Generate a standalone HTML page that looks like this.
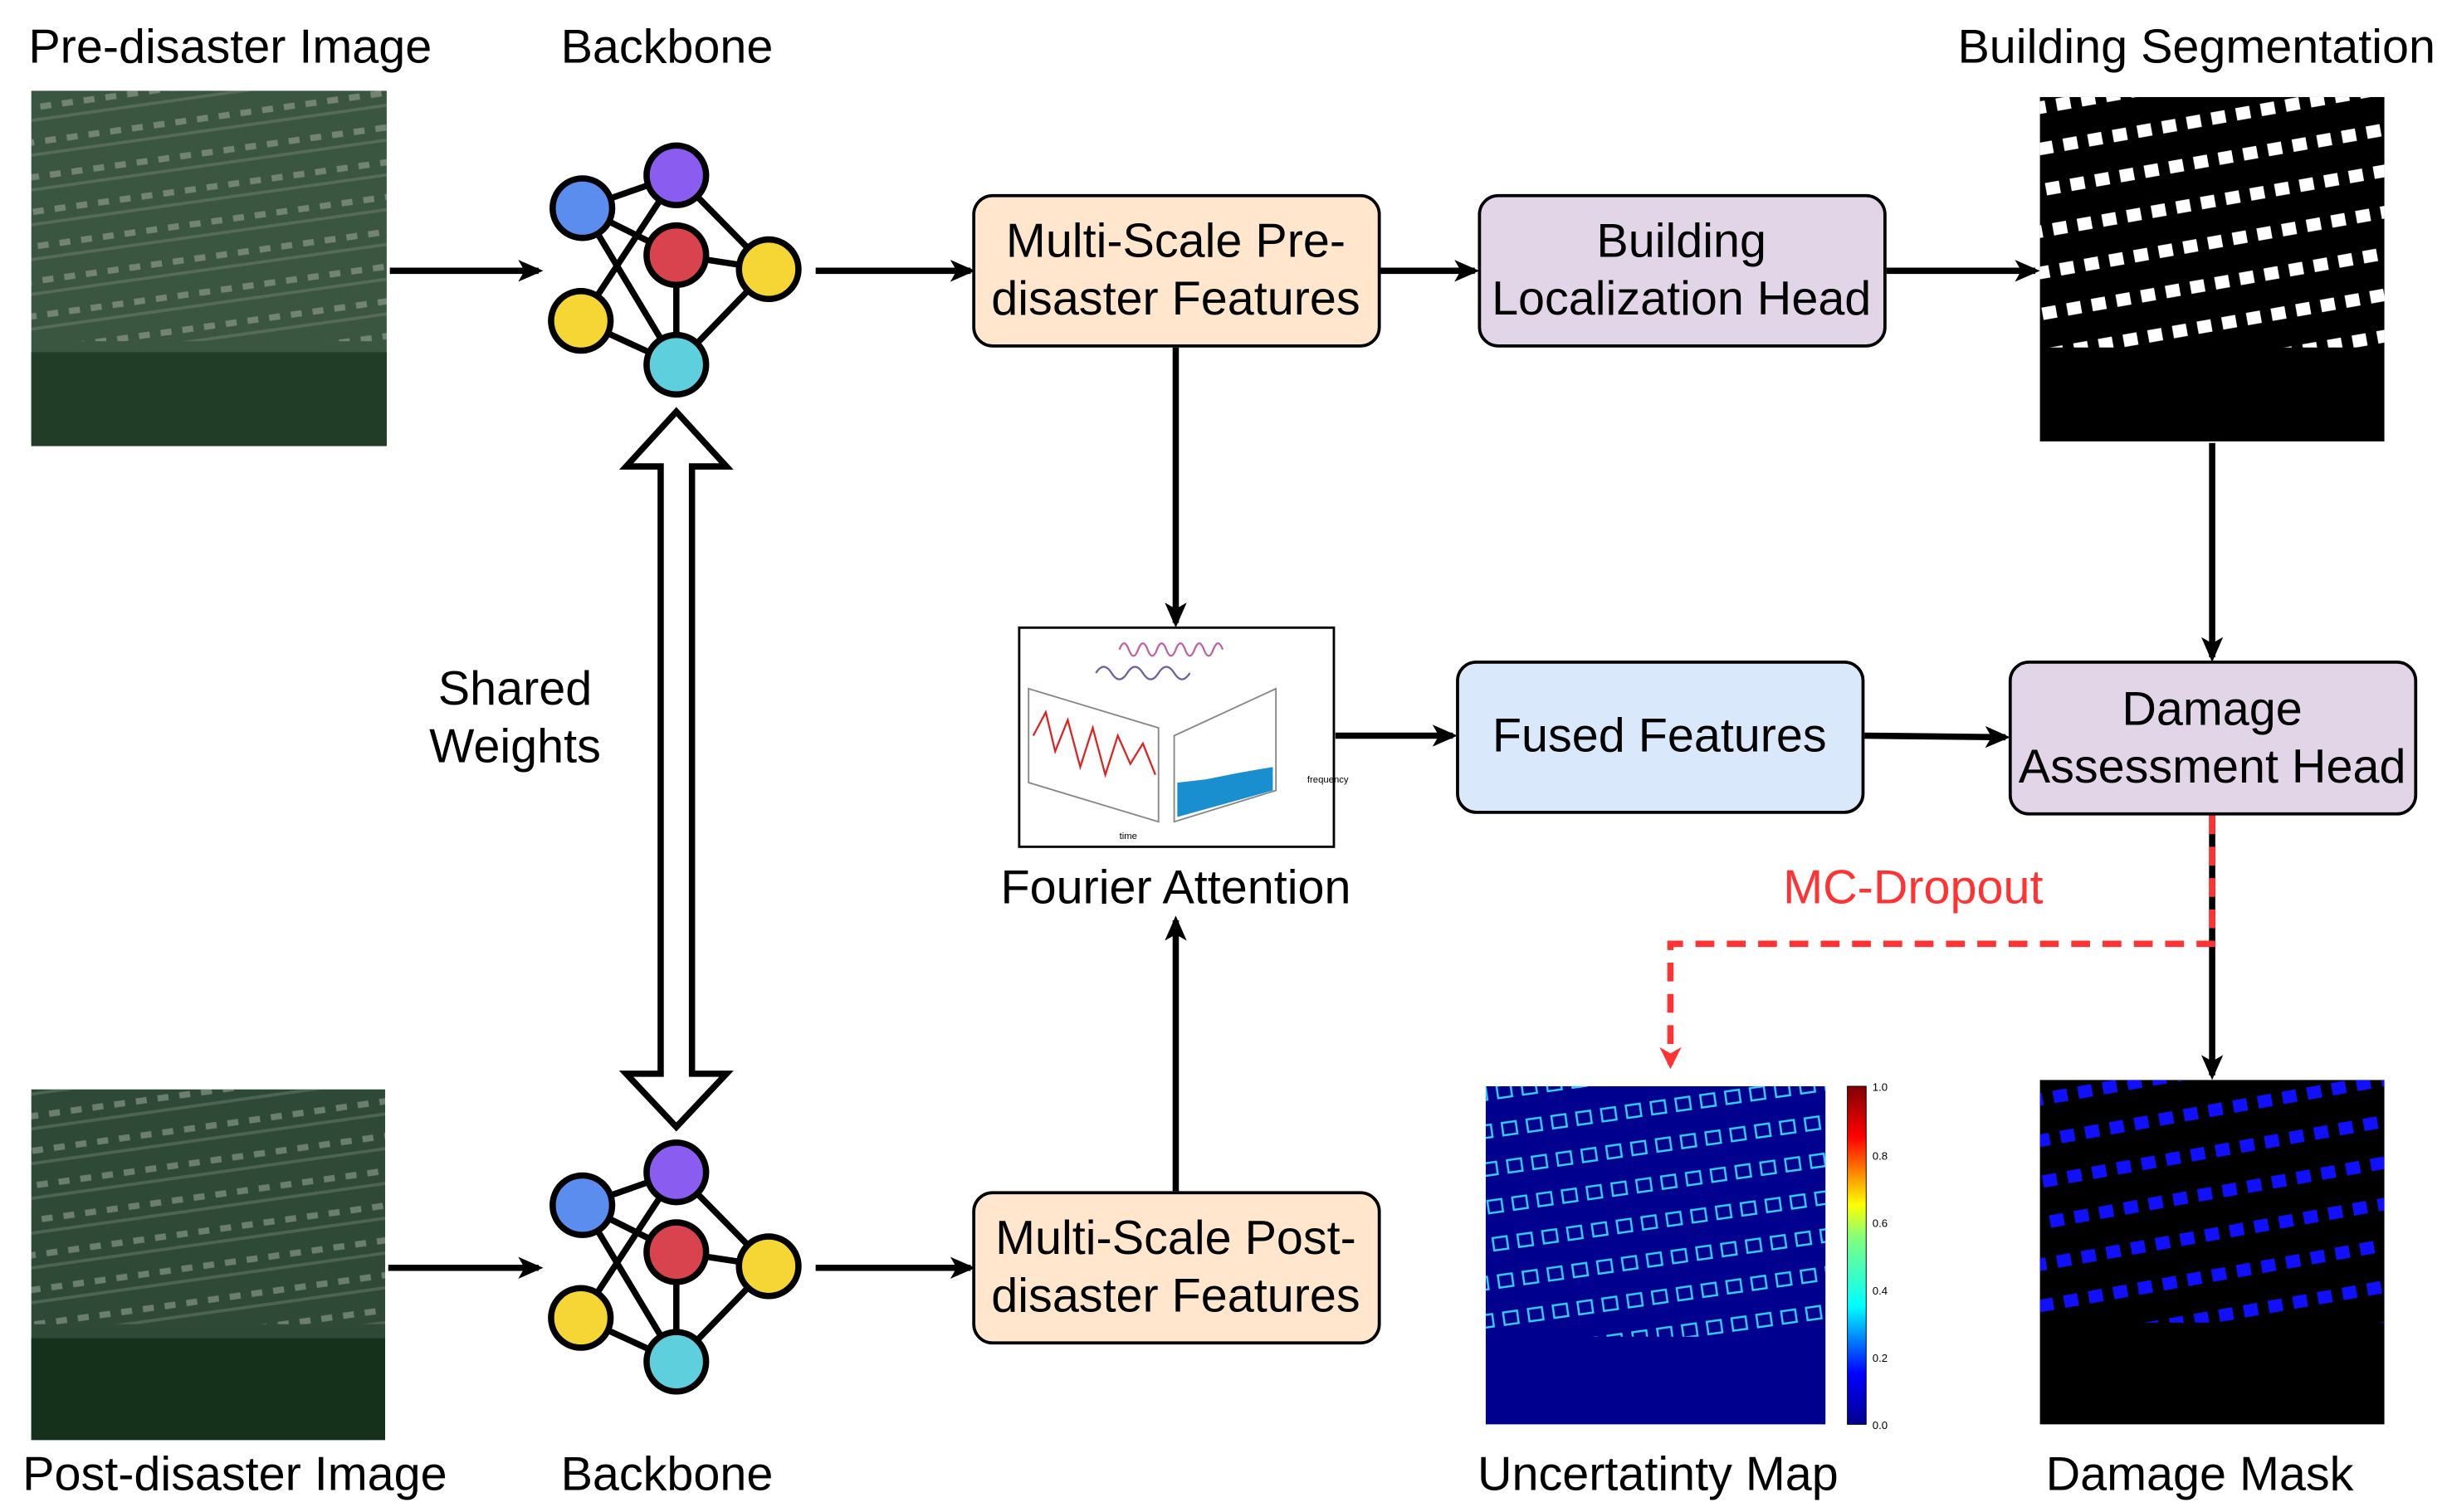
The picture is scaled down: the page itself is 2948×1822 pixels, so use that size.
<!DOCTYPE html>
<html><head><meta charset="utf-8"><style>
html,body{margin:0;padding:0;background:#fff;}
svg{display:block;}
text{font-family:"Liberation Sans",sans-serif;fill:#000;}
</style></head><body>
<svg width="2948" height="1822" viewBox="0 0 1563 966" xmlns="http://www.w3.org/2000/svg">
<defs>
<marker id="ah" markerWidth="16" markerHeight="14" refX="13" refY="7" orient="auto" markerUnits="userSpaceOnUse">
<path d="M0,0 L16,7 L0,14 L4,7 z" fill="#000"/></marker>
<marker id="ahr" markerWidth="14" markerHeight="14" refX="11" refY="7" orient="auto" markerUnits="userSpaceOnUse">
<path d="M0,0 L14,7 L0,14 L4,7 z" fill="#f33"/></marker>
<pattern id="houses" width="14" height="22" patternUnits="userSpaceOnUse" patternTransform="rotate(-8)">
<rect x="2" y="3" width="7" height="4" fill="#b8bcb2" opacity="0.45"/><rect x="0" y="12" width="14" height="2" fill="#8a9486" opacity="0.35"/></pattern>
<pattern id="seg" width="16" height="26" patternUnits="userSpaceOnUse" patternTransform="rotate(-10)">
<rect x="2" y="4" width="9" height="8" fill="#fff"/></pattern>
<pattern id="dmg" width="16" height="26" patternUnits="userSpaceOnUse" patternTransform="rotate(-10)">
<rect x="2" y="4" width="9" height="8" fill="#1010ff"/></pattern>
<pattern id="unc" width="16" height="24" patternUnits="userSpaceOnUse" patternTransform="rotate(-8)">
<rect x="2" y="4" width="9" height="8" fill="none" stroke="#30d0ff" stroke-width="1.3"/></pattern>
<linearGradient id="jet" x1="0" y1="1" x2="0" y2="0">
<stop offset="0" stop-color="#00008f"/><stop offset="0.15" stop-color="#0000ff"/><stop offset="0.35" stop-color="#00ffff"/><stop offset="0.55" stop-color="#7fff7f"/><stop offset="0.65" stop-color="#ffff00"/><stop offset="0.85" stop-color="#ff0000"/><stop offset="1" stop-color="#800000"/></linearGradient>
<g id="net">
<g stroke="#000" stroke-width="4">
<line x1="372" y1="133" x2="432" y2="112"/><line x1="372" y1="133" x2="432" y2="163"/><line x1="372" y1="133" x2="432" y2="233"/>
<line x1="371" y1="205" x2="432" y2="112"/><line x1="371" y1="205" x2="432" y2="233"/>
<line x1="432" y1="112" x2="491" y2="172"/><line x1="432" y1="163" x2="491" y2="172"/><line x1="432" y1="233" x2="491" y2="172"/><line x1="432" y1="163" x2="432" y2="233"/></g>
<g stroke="#000" stroke-width="4">
<circle cx="372" cy="133" r="19" fill="#5b8def"/><circle cx="432" cy="112" r="19" fill="#8b5cf0"/><circle cx="432" cy="163" r="19" fill="#d9434d"/>
<circle cx="491" cy="172" r="19" fill="#f5d634"/><circle cx="371" cy="205" r="19" fill="#f5d634"/><circle cx="432" cy="233" r="19" fill="#5ecfdc"/></g>
</g>
</defs>
<g font-size="30.5" text-anchor="middle">
<text x="147" y="40">Pre-disaster Image</text><text x="426" y="40">Backbone</text><text x="1403" y="40">Building Segmentation</text>
<text x="150" y="952">Post-disaster Image</text><text x="426" y="952">Backbone</text><text x="1059" y="952">Uncertatinty Map</text><text x="1405" y="952">Damage Mask</text>
<text x="751" y="577">Fourier Attention</text><text x="329" y="450">Shared</text><text x="329" y="487">Weights</text>
<text x="1222" y="577" style="fill:#f33">MC-Dropout</text>
</g>
<rect x="20" y="58" width="227" height="227" fill="#3a5540"/>
<rect x="20" y="58" width="227" height="160" fill="url(#houses)"/>
<rect x="20" y="225" width="227" height="60" fill="#223d27"/>
<rect x="20" y="696" width="226" height="224" fill="#2e4a36"/>
<rect x="20" y="696" width="226" height="150" fill="url(#houses)"/>
<rect x="20" y="855" width="226" height="65" fill="#15301b"/>
<use href="#net"/><use href="#net" transform="translate(0,637)"/>
<g stroke="#000" stroke-width="4" fill="none" marker-end="url(#ah)">
<line x1="249" y1="173" x2="344" y2="173"/><line x1="521" y1="173" x2="620" y2="173"/>
<line x1="882" y1="173" x2="942" y2="173"/><line x1="1205" y1="173" x2="1300" y2="173"/>
<line x1="1413" y1="283" x2="1413" y2="420"/><line x1="751" y1="222" x2="751" y2="398"/>
<line x1="853" y1="470" x2="928" y2="470"/><line x1="1191" y1="470" x2="1281" y2="471"/>
<line x1="751" y1="761" x2="751" y2="588"/><line x1="248" y1="810" x2="344" y2="810"/>
<line x1="521" y1="810" x2="620" y2="810"/><line x1="1413" y1="600" x2="1413" y2="687"/>
</g>
<line x1="1413" y1="521" x2="1413" y2="603" stroke="#000" stroke-width="4"/>
<path d="M1413,521 V603 H1067 V680" fill="none" stroke="#f33" stroke-width="4" stroke-dasharray="12,8" marker-end="url(#ahr)"/>
<path d="M432,263 L464,298 L442,298 L442,686 L464,686 L432,720 L400,686 L422,686 L422,298 L400,298 Z" fill="#fff" stroke="#000" stroke-width="4"/>
<g stroke="#000" stroke-width="2">
<rect x="622" y="125" width="259" height="96" rx="12" fill="#ffe6cc"/>
<rect x="945" y="125" width="259" height="96" rx="12" fill="#e1d5e7"/>
<rect x="931" y="423" width="259" height="96" rx="12" fill="#dae8fc"/>
<rect x="1284" y="423" width="259" height="97" rx="12" fill="#e1d5e7"/>
<rect x="622" y="762" width="259" height="96" rx="12" fill="#ffe6cc"/>
</g>
<g font-size="30.5" text-anchor="middle">
<text x="751" y="164">Multi-Scale Pre-</text><text x="751" y="201">disaster Features</text>
<text x="1074" y="164">Building</text><text x="1074" y="201">Localization Head</text>
<text x="1060" y="480">Fused Features</text>
<text x="1413" y="463">Damage</text><text x="1413" y="500">Assessment Head</text>
<text x="751" y="801">Multi-Scale Post-</text><text x="751" y="838">disaster Features</text>
</g>
<rect x="651" y="401" width="201" height="140" fill="#fff" stroke="#000" stroke-width="1.5"/>
<path d="M657,440 L740,465 L740,525 L657,500 Z" fill="#fff" stroke="#888"/>
<polyline points="660,470 668,455 674,480 682,460 690,490 698,465 706,495 714,470 722,488 730,475 738,495" fill="none" stroke="#d22" stroke-width="1.2"/>
<path d="M750,470 L815,440 L815,505 L750,525 Z" fill="#fff" stroke="#888"/>
<path d="M752,522 L752,500 L770,498 L790,494 L813,490 L813,505 L752,522 Z" fill="#1a8fd0"/>
<path d="M700,430 q5,-8 10,0 t10,0 t10,0 t10,0 t10,0 t10,0" fill="none" stroke="#7060a0" stroke-width="1.2"/>
<path d="M715,415 q3,-8 6,0 t6,0 t6,0 t6,0 t6,0 t6,0 t6,0 t6,0 t6,0 t6,0 t6,0" fill="none" stroke="#c060a0" stroke-width="1.2"/>
<text x="835" y="500" font-size="6">frequency</text><text x="715" y="536" font-size="6">time</text>
<rect x="1303" y="62" width="220" height="220" fill="#000"/>
<rect x="1303" y="62" width="220" height="160" fill="url(#seg)"/>
<rect x="1303" y="690" width="220" height="220" fill="#000"/>
<rect x="1303" y="690" width="220" height="155" fill="url(#dmg)"/>
<rect x="949" y="694" width="217" height="216" fill="#00008f"/>
<rect x="949" y="694" width="217" height="160" fill="url(#unc)"/>
<rect x="1180" y="694" width="12" height="216" fill="url(#jet)" stroke="#000" stroke-width="0.5"/>
<g font-size="7"><text x="1196" y="697">1.0</text><text x="1196" y="741">0.8</text><text x="1196" y="784">0.6</text><text x="1196" y="827">0.4</text><text x="1196" y="870">0.2</text><text x="1196" y="913">0.0</text></g>
</svg>
</body></html>
